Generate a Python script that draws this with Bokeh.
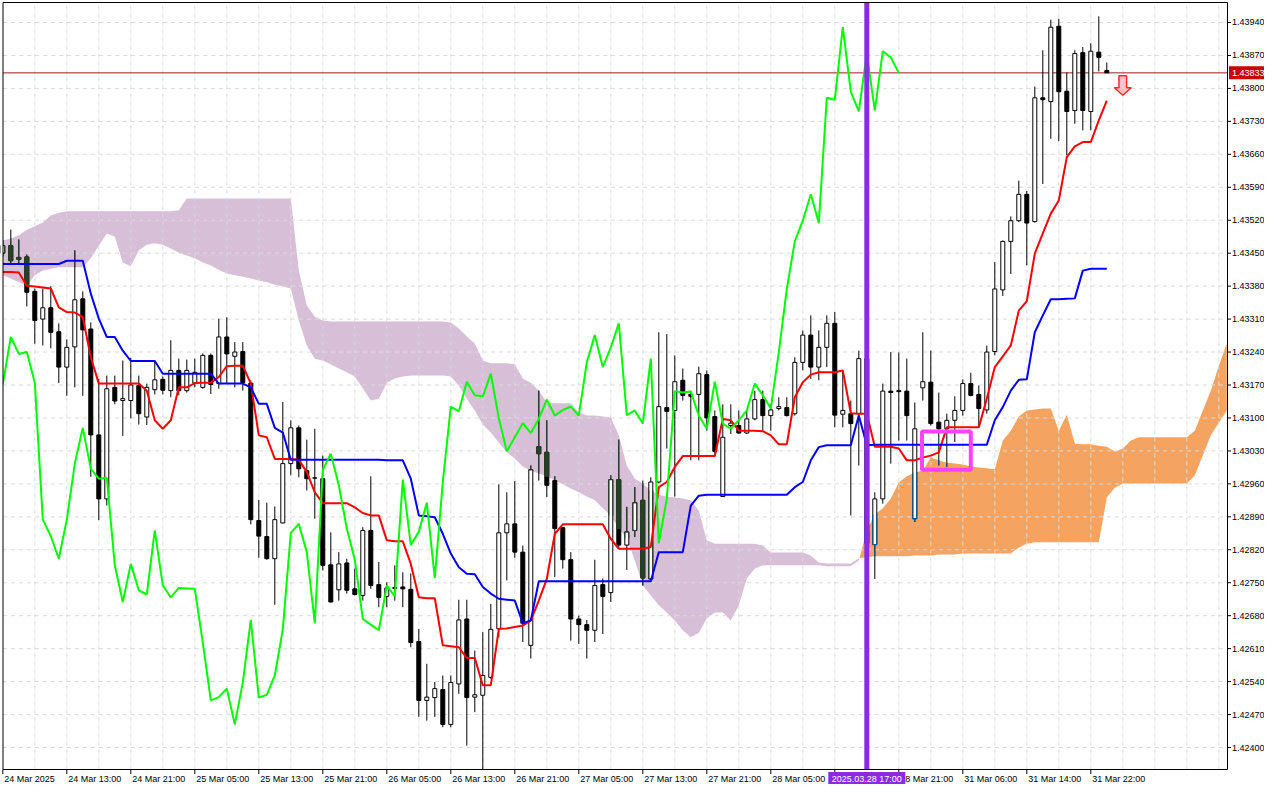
import numpy as np
from bokeh.plotting import figure
from bokeh.models import Range1d
from bokeh.core.properties import value
from bokeh.embed import file_html
from bokeh.resources import INLINE

# ---------------- data (H1 candles) ----------------
OPEN = [1.43450, 1.43466, 1.43441, 1.43442, 1.43369, 1.43310, 1.43334, 1.43283, 1.43208, 1.43251,
        1.43353, 1.43289, 1.43064, 1.42928, 1.43165, 1.43137, 1.43137, 1.43169, 1.43102, 1.43160,
        1.43182, 1.43158, 1.43201, 1.43158, 1.43174, 1.43165, 1.43233, 1.43173, 1.43272, 1.43231,
        1.43241, 1.43174, 1.42882, 1.42848, 1.42801, 1.42877, 1.43003, 1.43079, 1.42988, 1.42972,
        1.42971, 1.42788, 1.42735, 1.42792, 1.42737, 1.42723, 1.42861, 1.42746, 1.42721, 1.42740,
        1.42741, 1.42736, 1.42625, 1.42500, 1.42506, 1.42523, 1.42449, 1.42535, 1.42673, 1.42507,
        1.42511, 1.42549, 1.42652, 1.42856, 1.42875, 1.42815, 1.42617, 1.43039, 1.43027, 1.42967,
        1.42867, 1.42799, 1.42673, 1.42661, 1.42649, 1.42746, 1.42729, 1.42969, 1.42830, 1.42861,
        1.42925, 1.42758, 1.42964, 1.43122, 1.43116, 1.43180, 1.43150, 1.43150, 1.43192, 1.43103,
        1.42933, 1.43084, 1.43084, 1.43068, 1.43098, 1.43139, 1.43105, 1.43120, 1.43122, 1.43109,
        1.43218, 1.43276, 1.43208, 1.43250, 1.43301, 1.43108, 1.43109, 1.43109, 1.43226, 1.42831,
        1.42928, 1.43157, 1.43158, 1.43157, 1.42886, 1.43164, 1.43176, 1.43091, 1.43077, 1.43095,
        1.43116, 1.43173, 1.43150, 1.43117, 1.43241, 1.43372, 1.43475, 1.43519, 1.43575, 1.43517,
        1.43780, 1.43772, 1.43932, 1.43794, 1.43753, 1.43876, 1.43751, 1.43877, 1.43838]
HIGH = [1.43477, 1.43500, 1.43479, 1.43447, 1.43375, 1.43375, 1.43380, 1.43301, 1.43267, 1.43456,
        1.43369, 1.43303, 1.43183, 1.43190, 1.43190, 1.43222, 1.43228, 1.43190, 1.43173, 1.43222,
        1.43188, 1.43265, 1.43226, 1.43224, 1.43226, 1.43237, 1.43237, 1.43311, 1.43314, 1.43261,
        1.43261, 1.43180, 1.42926, 1.42920, 1.42912, 1.43134, 1.43095, 1.43084, 1.43054, 1.43077,
        1.43020, 1.42857, 1.42815, 1.42801, 1.42780, 1.42868, 1.42976, 1.42794, 1.42751, 1.42787,
        1.42772, 1.42770, 1.42652, 1.42578, 1.42539, 1.42553, 1.42553, 1.42714, 1.42714, 1.42606,
        1.42645, 1.42705, 1.42959, 1.42942, 1.42966, 1.42829, 1.42999, 1.43158, 1.43095, 1.42976,
        1.42868, 1.42815, 1.42680, 1.42671, 1.42799, 1.42759, 1.42978, 1.43054, 1.42911, 1.42953,
        1.42967, 1.42974, 1.43282, 1.43278, 1.43233, 1.43205, 1.43158, 1.43209, 1.43201, 1.43116,
        1.43129, 1.43129, 1.43116, 1.43116, 1.43158, 1.43158, 1.43130, 1.43144, 1.43144, 1.43229,
        1.43286, 1.43318, 1.43286, 1.43318, 1.43325, 1.43201, 1.43137, 1.43243, 1.43235, 1.42942,
        1.43173, 1.43240, 1.43239, 1.43226, 1.43133, 1.43282, 1.43243, 1.43154, 1.43109, 1.43146,
        1.43182, 1.43196, 1.43169, 1.43254, 1.43431, 1.43477, 1.43528, 1.43604, 1.43582, 1.43804,
        1.43881, 1.43946, 1.43948, 1.43834, 1.43881, 1.43888, 1.43896, 1.43953, 1.43855]
LOW = [1.43443, 1.43428, 1.43427, 1.43337, 1.43258, 1.43254, 1.43248, 1.43174, 1.43147, 1.43165,
       1.43147, 1.42975, 1.42883, 1.42914, 1.43129, 1.43062, 1.43099, 1.43086, 1.43085, 1.43150,
       1.43150, 1.43144, 1.43148, 1.43154, 1.43165, 1.43162, 1.43151, 1.43162, 1.43173, 1.43165,
       1.43158, 1.42874, 1.42803, 1.42799, 1.42703, 1.42876, 1.42978, 1.42974, 1.42946, 1.42886,
       1.42776, 1.42708, 1.42712, 1.42727, 1.42723, 1.42712, 1.42737, 1.42698, 1.42698, 1.42712,
       1.42698, 1.42613, 1.42465, 1.42457, 1.42465, 1.42443, 1.42443, 1.42514, 1.42404, 1.42475,
       1.42346, 1.42546, 1.42634, 1.42755, 1.42803, 1.42624, 1.42589, 1.42967, 1.42932, 1.42762,
       1.42780, 1.42627, 1.42620, 1.42589, 1.42624, 1.42641, 1.42709, 1.42823, 1.42777, 1.42847,
       1.42744, 1.42755, 1.42961, 1.43035, 1.42933, 1.43137, 1.43010, 1.43010, 1.43073, 1.43024,
       1.42932, 1.43066, 1.43066, 1.43066, 1.43095, 1.43073, 1.43073, 1.43116, 1.43103, 1.43105,
       1.43201, 1.43183, 1.43180, 1.43208, 1.43080, 1.43080, 1.42893, 1.42999, 1.42790, 1.42758,
       1.42918, 1.43003, 1.43052, 1.43052, 1.42879, 1.43137, 1.43084, 1.42999, 1.42996, 1.43049,
       1.43105, 1.43146, 1.43080, 1.43109, 1.43233, 1.43359, 1.43406, 1.43516, 1.43424, 1.43515,
       1.43597, 1.43693, 1.43688, 1.43658, 1.43725, 1.43711, 1.43711, 1.43836, 1.43833]
CLOSE = [1.43466, 1.43434, 1.43437, 1.43367, 1.43307, 1.43334, 1.43282, 1.43208, 1.43250, 1.43351,
         1.43287, 1.43064, 1.42928, 1.43162, 1.43136, 1.43141, 1.43170, 1.43109, 1.43165, 1.43181,
         1.43159, 1.43201, 1.43158, 1.43201, 1.43197, 1.43233, 1.43171, 1.43272, 1.43236, 1.43240,
         1.43175, 1.42884, 1.42849, 1.42801, 1.42884, 1.43003, 1.43079, 1.42992, 1.42971, 1.42973,
         1.42787, 1.42709, 1.42790, 1.42734, 1.42725, 1.42861, 1.42744, 1.42719, 1.42739, 1.42738,
         1.42737, 1.42623, 1.42500, 1.42507, 1.42525, 1.42449, 1.42538, 1.42671, 1.42506, 1.42512,
         1.42553, 1.42651, 1.42856, 1.42875, 1.42815, 1.42664, 1.42990, 1.43024, 1.42957, 1.42865,
         1.42799, 1.42673, 1.42661, 1.42649, 1.42744, 1.42721, 1.42969, 1.42830, 1.42858, 1.42920,
         1.42760, 1.42964, 1.43124, 1.43114, 1.43177, 1.43148, 1.43146, 1.43194, 1.43100, 1.43029,
         1.43059, 1.43089, 1.43068, 1.43098, 1.43139, 1.43105, 1.43117, 1.43124, 1.43105, 1.43218,
         1.43276, 1.43208, 1.43250, 1.43301, 1.43106, 1.43116, 1.43088, 1.43226, 1.42834, 1.42928,
         1.43157, 1.43154, 1.43156, 1.43105, 1.43077, 1.43177, 1.43088, 1.43077, 1.43095, 1.43116,
         1.43173, 1.43148, 1.43120, 1.43240, 1.43374, 1.43475, 1.43519, 1.43575, 1.43514, 1.43780,
         1.43776, 1.43930, 1.43793, 1.43751, 1.43874, 1.43753, 1.43879, 1.43866, 1.43833]

TENKAN = [1.43410, 1.43410, 1.43409, 1.43381, 1.43379, 1.43377, 1.43375, 1.43335, 1.43325, 1.43324,
          1.43314, 1.43229, 1.43173, 1.43173, 1.43173, 1.43173, 1.43173, 1.43173, 1.43158, 1.43095,
          1.43077, 1.43095, 1.43165, 1.43165, 1.43174, 1.43175, 1.43175, 1.43187, 1.43210, 1.43211,
          1.43211, 1.43173, 1.43063, 1.43059, 1.43013, 1.43013, 1.43013, 1.43011, 1.42985, 1.42942,
          1.42919, 1.42919, 1.42919, 1.42919, 1.42910, 1.42898, 1.42893, 1.42893, 1.42840, 1.42838,
          1.42838, 1.42790, 1.42719, 1.42717, 1.42717, 1.42617, 1.42615, 1.42613, 1.42590, 1.42590,
          1.42532, 1.42532, 1.42652, 1.42653, 1.42656, 1.42659, 1.42670, 1.42712, 1.42758, 1.42854,
          1.42874, 1.42874, 1.42874, 1.42874, 1.42874, 1.42874, 1.42843, 1.42822, 1.42822, 1.42822,
          1.42822, 1.42826, 1.42953, 1.42964, 1.42996, 1.43019, 1.43019, 1.43019, 1.43019, 1.43019,
          1.43098, 1.43095, 1.43073, 1.43073, 1.43073, 1.43072, 1.43063, 1.43044, 1.43044, 1.43144,
          1.43176, 1.43192, 1.43197, 1.43197, 1.43197, 1.43201, 1.43110, 1.43109, 1.43109, 1.43039,
          1.43039, 1.43039, 1.43035, 1.43010, 1.43010, 1.43016, 1.43020, 1.43027, 1.43080, 1.43080,
          1.43080, 1.43080, 1.43080, 1.43141, 1.43208, 1.43231, 1.43254, 1.43328, 1.43348, 1.43449,
          1.43492, 1.43534, 1.43562, 1.43654, 1.43677, 1.43686, 1.43686, 1.43732, 1.43774]
KIJUN = [1.43427, 1.43427, 1.43427, 1.43427, 1.43427, 1.43427, 1.43427, 1.43427, 1.43434, 1.43434,
         1.43434, 1.43364, 1.43311, 1.43272, 1.43272, 1.43243, 1.43221, 1.43221, 1.43221, 1.43221,
         1.43194, 1.43194, 1.43194, 1.43194, 1.43194, 1.43194, 1.43194, 1.43173, 1.43173, 1.43173,
         1.43173, 1.43165, 1.43130, 1.43130, 1.43079, 1.43069, 1.43011, 1.43011, 1.43011, 1.43011,
         1.43011, 1.43011, 1.43011, 1.43011, 1.43011, 1.43011, 1.43011, 1.43011, 1.43010, 1.43010,
         1.43010, 1.42971, 1.42893, 1.42891, 1.42889, 1.42854, 1.42812, 1.42783, 1.42769, 1.42768,
         1.42741, 1.42727, 1.42716, 1.42714, 1.42712, 1.42664, 1.42670, 1.42753, 1.42753, 1.42753,
         1.42753, 1.42753, 1.42753, 1.42753, 1.42753, 1.42753, 1.42753, 1.42753, 1.42753, 1.42753,
         1.42753, 1.42753, 1.42815, 1.42815, 1.42815, 1.42815, 1.42914, 1.42935, 1.42937, 1.42937,
         1.42937, 1.42937, 1.42937, 1.42937, 1.42937, 1.42937, 1.42937, 1.42937, 1.42937, 1.42953,
         1.42964, 1.43010, 1.43038, 1.43042, 1.43042, 1.43042, 1.43042, 1.43105, 1.43042, 1.43043,
         1.43043, 1.43043, 1.43043, 1.43043, 1.43043, 1.43043, 1.43043, 1.43043, 1.43043, 1.43043,
         1.43043, 1.43043, 1.43043, 1.43043, 1.43095, 1.43123, 1.43158, 1.43181, 1.43182, 1.43282,
         1.43318, 1.43352, 1.43352, 1.43353, 1.43354, 1.43413, 1.43417, 1.43417, 1.43417]
# Senkou spans as displayed (already shifted 26 bars forward): bars 0..153
SPAN_A = [1.43403, 1.43396, 1.43388, 1.43381, 1.43403, 1.43413, 1.43417, 1.43420, 1.43420, 1.43420,
          1.43420, 1.43439, 1.43466, 1.43492, 1.43485, 1.43430, 1.43422, 1.43456, 1.43468, 1.43471,
          1.43468, 1.43460, 1.43451, 1.43445, 1.43439, 1.43430, 1.43424, 1.43415, 1.43407, 1.43403,
          1.43400, 1.43396, 1.43392, 1.43388, 1.43383, 1.43379, 1.43375, 1.43307, 1.43254, 1.43226,
          1.43222, 1.43214, 1.43205, 1.43197, 1.43188, 1.43163, 1.43137, 1.43141, 1.43175, 1.43184,
          1.43188, 1.43190, 1.43190, 1.43190, 1.43190, 1.43190, 1.43188, 1.43169, 1.43141, 1.43116,
          1.43086, 1.43069, 1.43048, 1.43027, 1.43014, 1.42997, 1.42988, 1.42982, 1.42976, 1.42967,
          1.42959, 1.42950, 1.42942, 1.42933, 1.42925, 1.42908, 1.42893, 1.42865, 1.42844, 1.42797,
          1.42744, 1.42723, 1.42702, 1.42687, 1.42670, 1.42649, 1.42634, 1.42644, 1.42674, 1.42687,
          1.42687, 1.42670, 1.42702, 1.42759, 1.42780, 1.42787, 1.42787, 1.42787, 1.42787, 1.42787,
          1.42787, 1.42787, 1.42787, 1.42785, 1.42785, 1.42785, 1.42785, 1.42797, 1.42861, 1.42895,
          1.42908, 1.42929, 1.42963, 1.42976, 1.42984, 1.42988, 1.43016, 1.43010, 1.43005, 1.43003,
          1.43001, 1.42997, 1.42995, 1.42993, 1.42991, 1.43052, 1.43073, 1.43103, 1.43116, 1.43118,
          1.43120, 1.43120, 1.43073, 1.43107, 1.43046, 1.43044, 1.43044, 1.43041, 1.43039, 1.43029,
          1.43035, 1.43052, 1.43059, 1.43059, 1.43059, 1.43059, 1.43059, 1.43059, 1.43059, 1.43073,
          1.43116, 1.43158, 1.43211, 1.43258]
SPAN_B = [1.43477, 1.43481, 1.43488, 1.43500, 1.43507, 1.43515, 1.43530, 1.43536, 1.43539, 1.43539,
          1.43539, 1.43539, 1.43539, 1.43539, 1.43539, 1.43539, 1.43539, 1.43539, 1.43539, 1.43539,
          1.43539, 1.43539, 1.43541, 1.43566, 1.43566, 1.43566, 1.43566, 1.43566, 1.43566, 1.43566,
          1.43566, 1.43566, 1.43566, 1.43566, 1.43566, 1.43566, 1.43566, 1.43413, 1.43339, 1.43315,
          1.43307, 1.43305, 1.43305, 1.43305, 1.43305, 1.43305, 1.43305, 1.43305, 1.43305, 1.43305,
          1.43305, 1.43305, 1.43305, 1.43305, 1.43305, 1.43305, 1.43303, 1.43290, 1.43273, 1.43258,
          1.43222, 1.43216, 1.43216, 1.43216, 1.43214, 1.43184, 1.43175, 1.43158, 1.43133, 1.43131,
          1.43131, 1.43131, 1.43112, 1.43105, 1.43105, 1.43103, 1.43101, 1.43063, 1.42999, 1.42971,
          1.42961, 1.42946, 1.42937, 1.42933, 1.42931, 1.42929, 1.42925, 1.42903, 1.42840, 1.42833,
          1.42833, 1.42833, 1.42833, 1.42833, 1.42833, 1.42829, 1.42814, 1.42814, 1.42814, 1.42814,
          1.42814, 1.42808, 1.42793, 1.42791, 1.42791, 1.42791, 1.42791, 1.42802, 1.42804, 1.42806,
          1.42806, 1.42806, 1.42806, 1.42806, 1.42808, 1.42808, 1.42808, 1.42810, 1.42810, 1.42810,
          1.42812, 1.42812, 1.42812, 1.42812, 1.42812, 1.42812, 1.42812, 1.42825, 1.42833, 1.42836,
          1.42836, 1.42836, 1.42836, 1.42836, 1.42836, 1.42836, 1.42836, 1.42836, 1.42931, 1.42952,
          1.42961, 1.42961, 1.42961, 1.42961, 1.42961, 1.42961, 1.42961, 1.42961, 1.42961, 1.42978,
          1.43020, 1.43063, 1.43090, 1.43116]
CHIKOU_SHIFT = 26

Y_TICKS = [1.42400, 1.42470, 1.42540, 1.42610, 1.42680, 1.42750, 1.42820, 1.42890, 1.42960, 1.43030,
           1.43100, 1.43170, 1.43240, 1.43310, 1.43380, 1.43450, 1.43520, 1.43590, 1.43660, 1.43730,
           1.43800, 1.43870, 1.43940]
X_TICK_BARS = [0, 8, 16, 24, 32, 40, 48, 56, 64, 72, 80, 88, 96, 104, 112, 120, 128, 136]
X_TICK_LABELS = ["24 Mar 2025", "24 Mar 13:00", "24 Mar 21:00", "25 Mar 05:00", "25 Mar 13:00",
                 "25 Mar 21:00", "26 Mar 05:00", "26 Mar 13:00", "26 Mar 21:00", "27 Mar 05:00",
                 "27 Mar 13:00", "27 Mar 21:00", "28 Mar 05:00", "28 Mar 13:00", "28 Mar 21:00",
                 "31 Mar 06:00", "31 Mar 14:00", "31 Mar 22:00"]
BID = 1.43833
BID_TEXT = "1.43833"
VLINE_BAR = 108
VLINE_TEXT = "2025.03.28 17:00"
BOX_BARS = (114.9, 121.0)
BOX_PRICES = (1.42990, 1.43071)
ARROW_BAR = 140
ARROW_PRICE = 1.43827

# ---------------- layout (pixel geometry of the MT5 window) ----------------
FONT = "Liberation Sans"
FS = "9px"
W, H = 1264, 784
PXB = 8.0            # pixels per bar
PXP = 47078.0        # pixels per price unit
BAR_AT_0 = -0.2875   # bar value at the left page pixel
PRICE_AT_0 = 1.4398673  # price at the top page pixel


def bx(px):
    return BAR_AT_0 + px / PXB


def py(pix):
    return PRICE_AT_0 - pix / PXP


def dx(pix):
    return pix / PXB


def dy(pix):
    return pix / PXP


CH_L, CH_R = bx(2.5), bx(1227.0)
CH_T, CH_B = py(2.0), py(769.0)

p = figure(width=W, height=H, output_backend="svg", toolbar_location=None, tools="",
           x_range=Range1d(bx(0), bx(W)), y_range=Range1d(py(H), py(0)),
           x_axis_location=None, y_axis_location=None,
           min_border=0, min_border_left=0, min_border_right=0, min_border_top=0,
           min_border_bottom=0, background_fill_color="white", border_fill_color="white")
p.outline_line_color = None
p.grid.visible = False

# ---------------- Ichimoku cloud ----------------
PURPLE_CLOUD = "#D8BFD8"
ORANGE_CLOUD = "#F4A460"
TINT_PURPLE = "#274027"   # black pixels drawn over the purple cloud
TINT_ORANGE = "#0b5b9f"   # black pixels drawn over the orange cloud
sa = np.array(SPAN_A)
sb = np.array(SPAN_B)
cx = np.arange(len(sa), dtype=float)
bear = sb >= sa
runs = []
seg_x, seg_a, seg_b = [cx[0]], [sa[0]], [sb[0]]
for i in range(1, len(sa)):
    if bear[i] != bear[i - 1]:
        d0 = sb[i - 1] - sa[i - 1]
        d1 = sb[i] - sa[i]
        t = d0 / (d0 - d1)
        xc = cx[i - 1] + t
        yc = sa[i - 1] + t * (sa[i] - sa[i - 1])
        seg_x.append(xc); seg_a.append(yc); seg_b.append(yc)
        runs.append((seg_x, seg_a, seg_b, bear[i - 1]))
        seg_x, seg_a, seg_b = [xc], [yc], [yc]
    seg_x.append(cx[i]); seg_a.append(sa[i]); seg_b.append(sb[i])
runs.append((seg_x, seg_a, seg_b, bear[-1]))
for xs, ya_, yb_, is_bear in runs:
    p.varea(x=xs, y1=ya_, y2=yb_, fill_color=PURPLE_CLOUD if is_bear else ORANGE_CLOUD,
            level="image")

# ---------------- grid ----------------
GRID_COLOR = "#dadada"
vg = [b for b in range(0, 160, 4) if CH_L < b < CH_R]
p.segment(x0=vg, y0=[CH_B] * len(vg), x1=vg, y1=[CH_T] * len(vg), line_color=GRID_COLOR,
          line_dash="4 4", line_width=1, level="underlay")
p.segment(x0=[CH_L] * len(Y_TICKS), y0=Y_TICKS, x1=[CH_R] * len(Y_TICKS), y1=Y_TICKS,
          line_color=GRID_COLOR, line_dash="4 4", line_width=1, level="underlay")

# bid line
p.segment(x0=[CH_L], y0=[BID], x1=[CH_R], y1=[BID], line_color="#9b1c1c", line_width=1)

# ---------------- candles ----------------
n = len(CLOSE)
bars = np.arange(n)
o = np.array(OPEN); c = np.array(CLOSE)
hi_ = np.array(HIGH); lo_ = np.array(LOW)
up = c >= o
HW = 0.25  # half body width in bars

# where a candle crosses the cloud, its dark pixels take the inverted cloud colour
wick_t = {"x": [], "y0": [], "y1": [], "c": []}
body_t = {"x": [], "top": [], "bot": [], "c": []}
edge_t = {"x0": [], "x1": [], "y0": [], "y1": [], "c": []}
for k in range(n):
    clo, chi = min(sa[k], sb[k]), max(sa[k], sb[k])
    tint = TINT_PURPLE if sb[k] >= sa[k] else TINT_ORANGE
    a, b = max(lo_[k], clo), min(hi_[k], chi)
    if b > a:
        wick_t["x"].append(k); wick_t["y0"].append(a); wick_t["y1"].append(b)
        wick_t["c"].append(tint)
    top, bot = max(o[k], c[k]), min(o[k], c[k])
    a, b = max(bot, clo), min(top, chi)
    if b > a:
        if not up[k]:
            body_t["x"].append(k); body_t["top"].append(b); body_t["bot"].append(a)
            body_t["c"].append(tint)
        else:
            for side in (-HW, HW):
                edge_t["x0"].append(k + side); edge_t["x1"].append(k + side)
                edge_t["y0"].append(a); edge_t["y1"].append(b); edge_t["c"].append(tint)
            for yy in (top, bot):
                if clo <= yy <= chi:
                    edge_t["x0"].append(k - HW); edge_t["x1"].append(k + HW)
                    edge_t["y0"].append(yy); edge_t["y1"].append(yy); edge_t["c"].append(tint)

p.segment(x0=bars, y0=LOW, x1=bars, y1=HIGH, line_color="black", line_width=1)
p.segment(x0=wick_t["x"], y0=wick_t["y0"], x1=wick_t["x"], y1=wick_t["y1"],
          line_color=wick_t["c"], line_width=1)
p.vbar(x=bars[up], width=2 * HW, top=c[up], bottom=o[up], fill_color="white",
       line_color="black", line_width=1)
p.vbar(x=bars[~up], width=2 * HW, top=o[~up], bottom=c[~up], fill_color="black",
       line_color="black", line_width=1)
p.vbar(x=body_t["x"], width=2 * HW, top=body_t["top"], bottom=body_t["bot"],
       fill_color=body_t["c"], line_color=body_t["c"], line_width=1)
p.segment(x0=edge_t["x0"], y0=edge_t["y0"], x1=edge_t["x1"], y1=edge_t["y1"],
          line_color=edge_t["c"], line_width=1)

# ---------------- Ichimoku lines ----------------
p.line(bars, TENKAN, line_color="#ff0000", line_width=2)
p.line(bars, KIJUN, line_color="#0000ff", line_width=2)
p.line(bars[: n - CHIKOU_SHIFT], CLOSE[CHIKOU_SHIFT:], line_color="#00ff00", line_width=2)

# highlight box
p.quad(left=BOX_BARS[0], right=BOX_BARS[1], bottom=BOX_PRICES[0], top=BOX_PRICES[1],
       fill_color=None, line_color="#ff40ff", line_width=4)

# sell arrow
sw, sl, hw, hl = 3.8, 12.0, 8.5, 7.5
ax = [ARROW_BAR - dx(sw), ARROW_BAR + dx(sw), ARROW_BAR + dx(sw), ARROW_BAR + dx(hw), ARROW_BAR,
      ARROW_BAR - dx(hw), ARROW_BAR - dx(sw)]
ay = [ARROW_PRICE, ARROW_PRICE, ARROW_PRICE - dy(sl), ARROW_PRICE - dy(sl),
      ARROW_PRICE - dy(sl + hl), ARROW_PRICE - dy(sl), ARROW_PRICE - dy(sl)]
p.patch(ax, ay, fill_color="#ffc4c4", line_color="#ff2a2a", line_width=1.5)

# vertical marker line
p.segment(x0=[VLINE_BAR], y0=[CH_B], x1=[VLINE_BAR], y1=[CH_T], line_color="#8a2be2",
          line_width=5)

# ---------------- masks outside the chart window ----------------
p.quad(left=[CH_R, bx(0), bx(0), bx(0)], right=[bx(W), bx(W), CH_L, bx(W)],
       bottom=[py(H), py(H), py(H), CH_T], top=[py(0), CH_B, py(0), py(0)],
       fill_color="white", line_color=None)

# chart frame
p.multi_line(xs=[[CH_L, CH_R, CH_R, CH_L, CH_L]], ys=[[CH_T, CH_T, CH_B, CH_B, CH_T]],
             line_color="black", line_width=1)

# ---------------- right price scale ----------------
p.segment(x0=[CH_R] * len(Y_TICKS), y0=Y_TICKS, x1=[bx(1230.5)] * len(Y_TICKS), y1=Y_TICKS,
          line_color="black", line_width=1)
p.text(x=[bx(1231.5)] * len(Y_TICKS), y=Y_TICKS, text=["%.5f" % v for v in Y_TICKS],
       text_font=value(FONT), text_font_size=value(FS), text_color="black",
       text_align="left", text_baseline="middle")

# current price label
p.quad(left=[bx(1228.5)], right=[bx(W)], bottom=[BID - dy(6.5)], top=[BID + dy(6.5)],
       fill_color="#c80000", line_color=None)
p.text(x=[bx(1231.5)], y=[BID], text=[BID_TEXT], text_font=value(FONT),
       text_font_size=value(FS), text_color="white", text_align="left", text_baseline="middle")

# ---------------- time scale ----------------
p.segment(x0=X_TICK_BARS, y0=[CH_B] * len(X_TICK_BARS), x1=X_TICK_BARS,
          y1=[py(773.5)] * len(X_TICK_BARS), line_color="black", line_width=1)
p.text(x=[b + dx(1.5) for b in X_TICK_BARS], y=[py(778.5)] * len(X_TICK_BARS),
       text=X_TICK_LABELS, text_font=value(FONT), text_font_size=value(FS), text_color="black",
       text_align="left", text_baseline="middle")

# highlighted time label of the vertical line
p.quad(left=[VLINE_BAR - dx(38.5)], right=[VLINE_BAR + dx(38.5)], bottom=[py(784)],
       top=[py(771.5)], fill_color="#8a2be2", line_color=None)
p.text(x=[VLINE_BAR], y=[py(778.5)], text=[VLINE_TEXT], text_font=value(FONT),
       text_font_size=value(FS), text_color="white", text_align="center",
       text_baseline="middle")

open("out.html", "w").write(file_html(p, INLINE))
